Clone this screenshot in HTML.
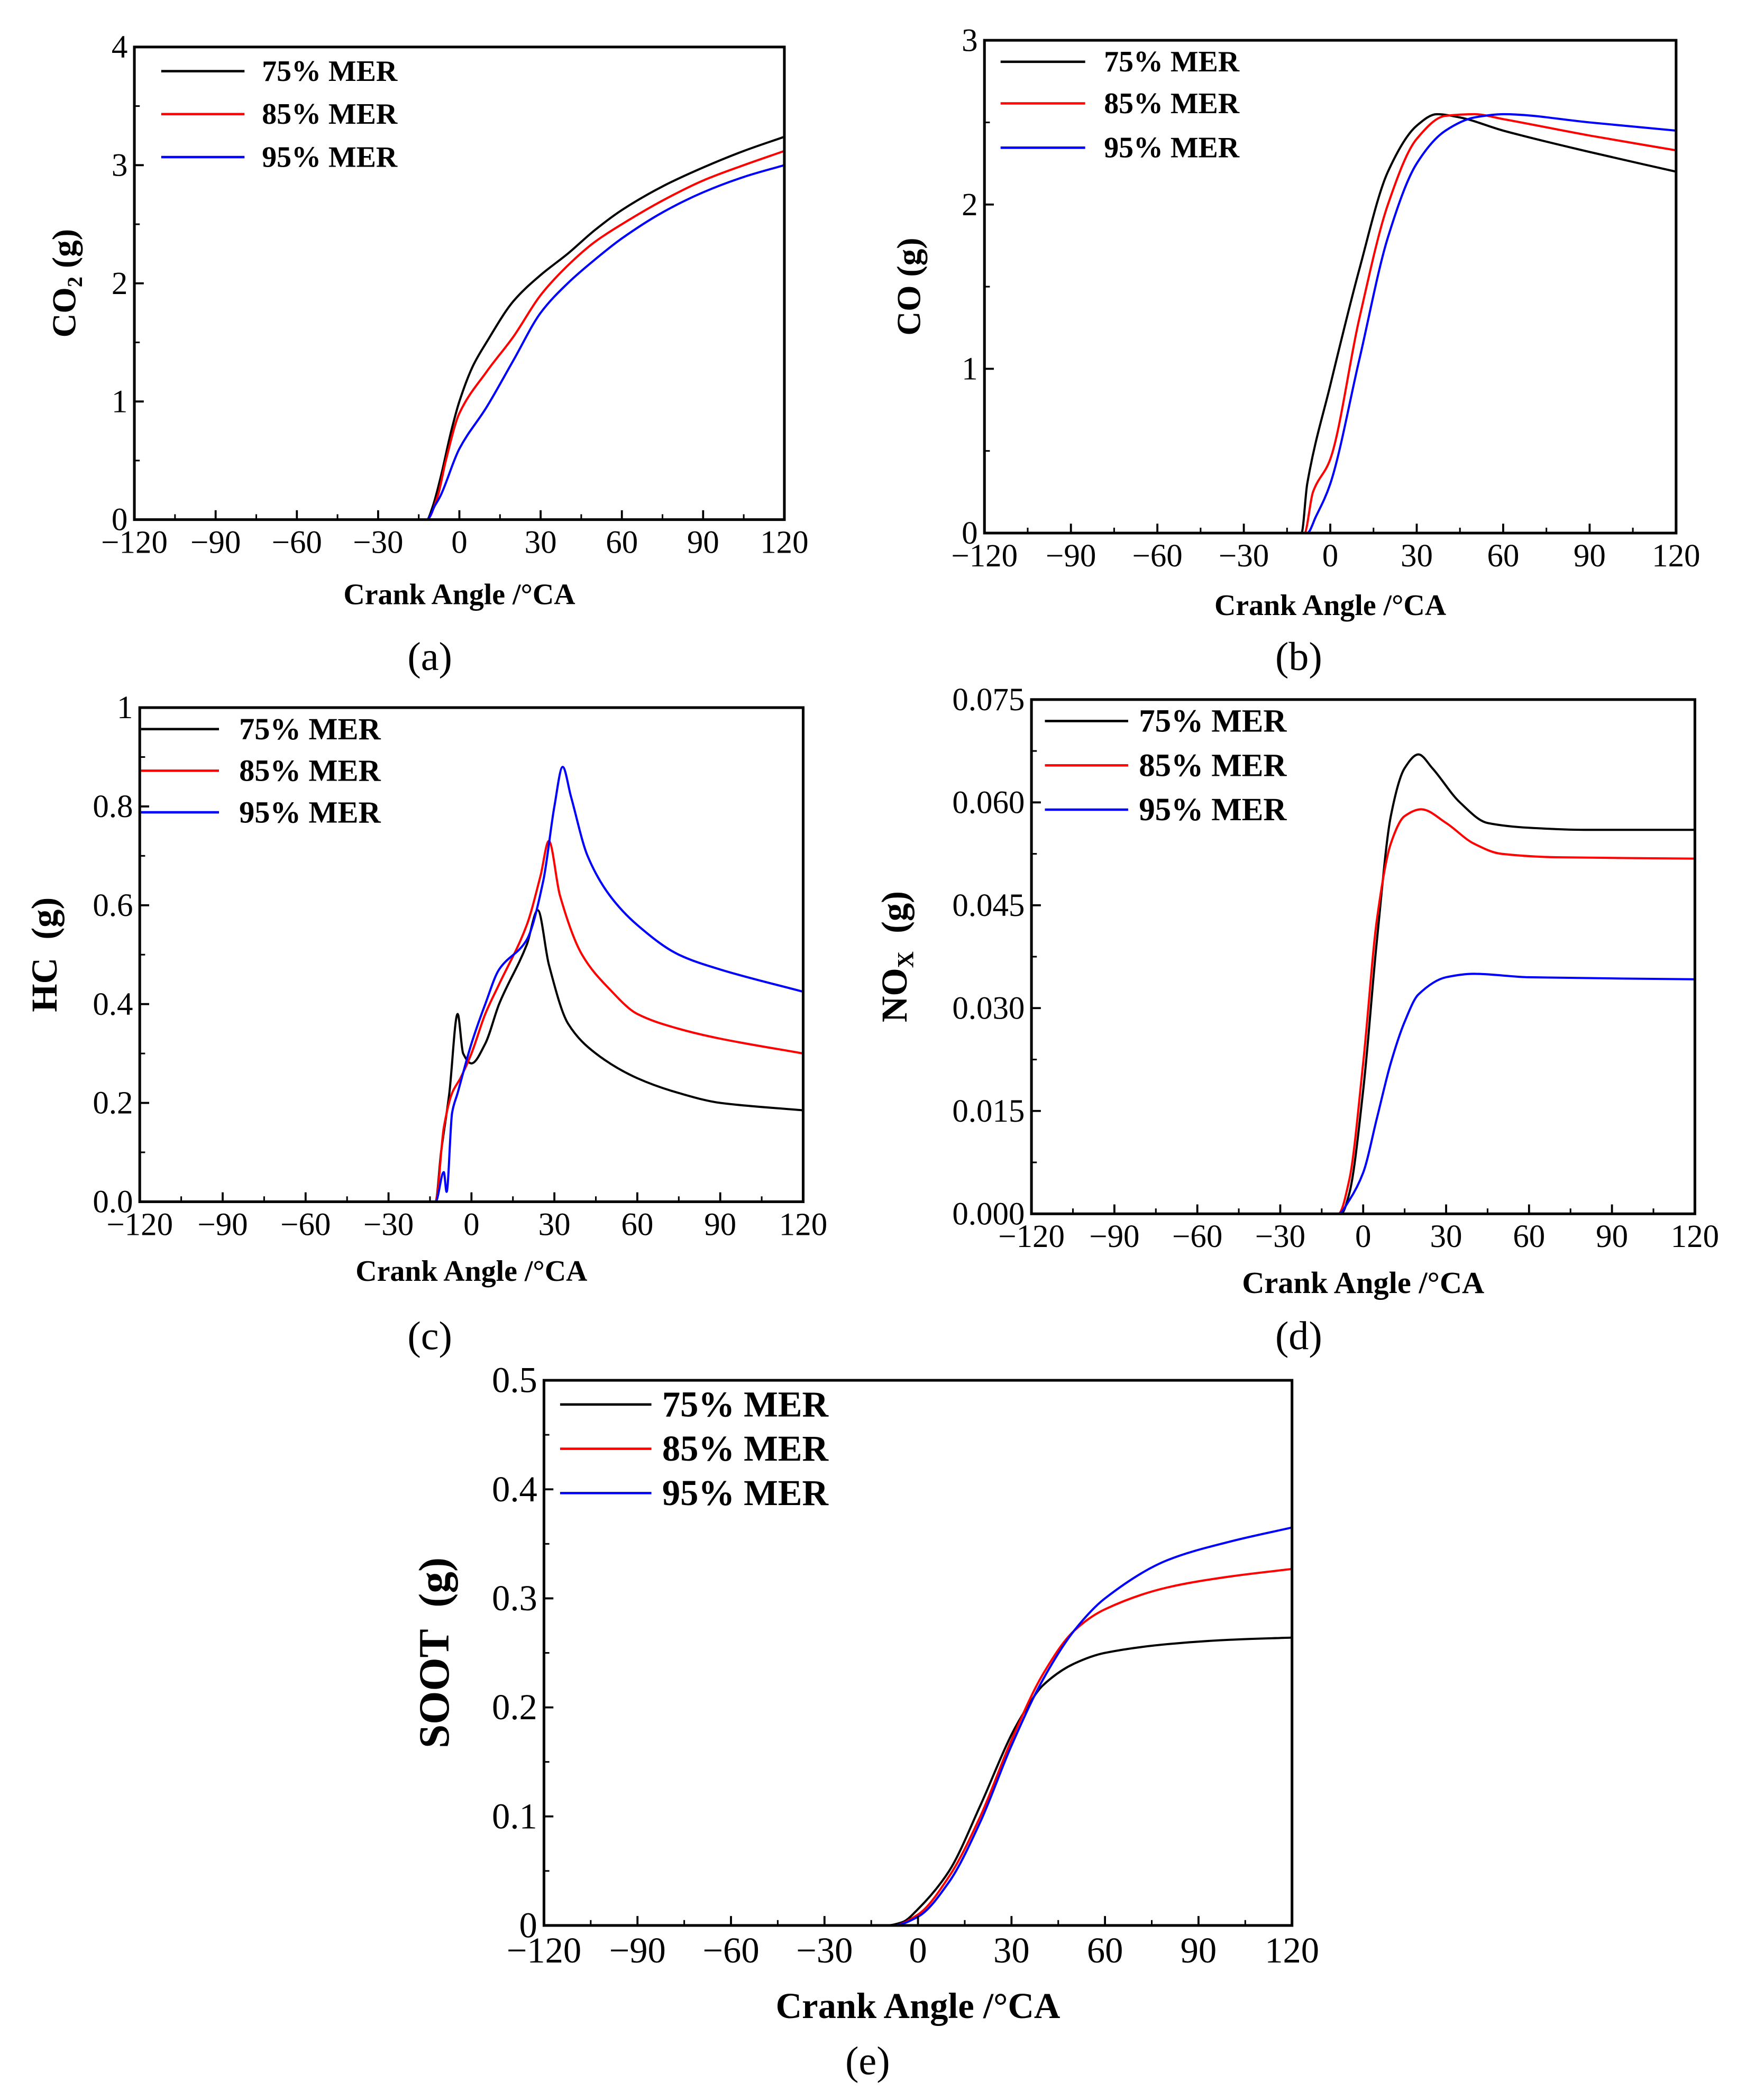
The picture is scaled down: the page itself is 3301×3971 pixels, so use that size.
<!DOCTYPE html>
<html><head><meta charset="utf-8"><style>
html,body{margin:0;padding:0;background:#fff;}
svg{display:block;}
svg text{font-family:"Liberation Serif","Times New Roman",serif;fill:#000;}
</style></head>
<body>
<svg id="fig" width="3301" height="3971" viewBox="0 0 1300 1564" font-family="Liberation Serif, serif" xmlns="http://www.w3.org/2000/svg"></svg>
<script>
// ---- data (crank angle, value) ----
const xTicks = [-120,-90,-60,-30,0,30,60,90,120];
const xTickLabels = ["\u2212120","\u221290","\u221260","\u221230","0","30","60","90","120"];
const seriesNames = ["75% MER","85% MER","95% MER"];
const seriesColors = ["#000000","#ff0000","#0000ff"];

const co2X75 = [-120,-12,-10,-7,-3,0,5,10,20,30,40,50,60,75,90,105,120];
const co2Y75 = [0,0,0.1,0.35,0.75,1.0,1.3,1.5,1.85,2.07,2.25,2.45,2.62,2.82,2.98,3.12,3.24];
const co2X85 = [-120,-12,-8,-5,0,10,20,30,40,50,60,75,90,105,120];
const co2Y85 = [0,0,0.2,0.5,0.9,1.25,1.55,1.9,2.15,2.35,2.5,2.7,2.87,3.0,3.12];
const co2X95 = [-120,-12,-9,-7,0,10,20,30,40,50,60,75,90,105,120];
const co2Y95 = [0,0,0.12,0.2,0.6,0.95,1.35,1.75,2.0,2.2,2.38,2.6,2.77,2.9,3.0];

const coX75 = [-120,-10,-8,0,10,20,30,37,45,60,90,120];
const coY75 = [0,0,0.3,0.9,1.6,2.2,2.48,2.55,2.53,2.45,2.32,2.2];
const coX85 = [-120,-9,-6,0,10,20,30,40,50,60,90,120];
const coY85 = [0,0,0.25,0.45,1.3,2.0,2.4,2.54,2.55,2.52,2.42,2.33];
const coX95 = [-120,-8,-5,0,10,20,30,40,50,60,90,120];
const coY95 = [0,0,0.1,0.3,1.05,1.8,2.25,2.45,2.53,2.55,2.5,2.45];

const hcX75 = [-120,-13,-11,-8,-5,-3,0,5,10,20,24,28,35,45,60,75,90,120];
const hcY75 = [0,0,0.1,0.22,0.38,0.3,0.28,0.32,0.4,0.52,0.59,0.48,0.36,0.3,0.25,0.22,0.2,0.185];
const hcX85 = [-120,-13,-10,-7,-4,0,5,10,20,25,28,32,40,50,60,75,90,120];
const hcY85 = [0,0,0.15,0.22,0.25,0.3,0.38,0.44,0.56,0.66,0.73,0.62,0.5,0.43,0.38,0.35,0.33,0.3];
const hcX95 = [-120,-13,-10,-9,-7,-5,0,5,10,20,26,30,33,36,42,50,60,75,90,120];
const hcY95 = [0,0,0.06,0.02,0.18,0.22,0.32,0.4,0.47,0.53,0.65,0.8,0.88,0.82,0.7,0.62,0.56,0.5,0.47,0.425];

const noxX75 = [-120,-8,-5,0,5,10,15,20,25,35,45,60,80,120];
const noxY75 = [0,0,0.003,0.018,0.04,0.058,0.065,0.067,0.065,0.06,0.057,0.0563,0.056,0.056];
const noxX85 = [-120,-9,-5,0,5,10,15,21,30,40,50,70,120];
const noxY85 = [0,0,0.005,0.022,0.043,0.054,0.058,0.059,0.057,0.054,0.0525,0.052,0.0518];
const noxX95 = [-120,-9,-5,0,5,10,15,20,30,40,60,120];
const noxY95 = [0,0,0.002,0.006,0.014,0.022,0.028,0.032,0.0345,0.035,0.0345,0.0342];

const sootX75 = [-120,-10,-5,0,10,20,30,35,40,50,60,80,100,120];
const sootY75 = [0,0,0.003,0.015,0.05,0.11,0.175,0.2,0.22,0.24,0.25,0.258,0.262,0.264];
const sootX85 = [-120,-8,0,10,20,30,40,50,60,80,100,120];
const sootY85 = [0,0,0.01,0.045,0.1,0.17,0.23,0.27,0.29,0.31,0.32,0.327];
const sootX95 = [-120,-8,0,10,20,30,40,50,60,80,100,120];
const sootY95 = [0,0,0.008,0.04,0.095,0.165,0.225,0.27,0.3,0.335,0.352,0.365];

const co2YTicks=[0,1,2,3,4], co2YLabels=["0","1","2","3","4"];
const coYTicks=[0,1,2,3], coYLabels=["0","1","2","3"];
const hcYTicks=[0,0.2,0.4,0.6,0.8,1], hcYLabels=["0.0","0.2","0.4","0.6","0.8","1"];
const noxYTicks=[0,0.015,0.03,0.045,0.06,0.075], noxYLabels=["0.000","0.015","0.030","0.045","0.060","0.075"];
const sootYTicks=[0,0.1,0.2,0.3,0.4,0.5], sootYLabels=["0","0.1","0.2","0.3","0.4","0.5"];

const NS="http://www.w3.org/2000/svg";
const svg=document.getElementById('fig');
function mk(tag,attrs,parent){const e=document.createElementNS(NS,tag);for(const k in attrs)e.setAttribute(k,attrs[k]);(parent||svg).appendChild(e);return e;}

// monotone cubic (Fritsch-Butland) path in pixel space
function smoothPath(P){
  const n=P.length, sec=[], m=[];
  for(let i=0;i<n-1;i++) sec.push((P[i+1][1]-P[i][1])/(P[i+1][0]-P[i][0]));
  for(let i=0;i<n;i++){
    if(i===0) m.push(sec[0]);
    else if(i===n-1) m.push(sec[n-2]);
    else { const a=sec[i-1], b=sec[i]; m.push(a*b<=0?0:2*a*b/(a+b)); }
  }
  let d='M'+P[0][0].toFixed(2)+' '+P[0][1].toFixed(2);
  for(let i=0;i<n-1;i++){
    const dx=(P[i+1][0]-P[i][0])/3;
    d+='C'+(P[i][0]+dx).toFixed(2)+' '+(P[i][1]+m[i]*dx).toFixed(2)+' '+(P[i+1][0]-dx).toFixed(2)+' '+(P[i+1][1]-m[i+1]*dx).toFixed(2)+' '+P[i+1][0].toFixed(2)+' '+P[i+1][1].toFixed(2);
  }
  return d;
}

function panel(p){
  const g=mk('g',{});
  
  
  const sx=v=>p.x0+(v+120)/240*(p.x1-p.x0);
  const sy=v=>p.y1-(v-p.ymin)/(p.ymax-p.ymin)*(p.y1-p.y0);
  for(let s=0;s<3;s++){
    const xs=p.xs[s], ys=p.ys[s];
    const pts=xs.map((x,i)=>[sx(x),sy(ys[i])]);
    const path=mk('path',{d:smoothPath(pts),fill:'none',stroke:seriesColors[s],'stroke-width':1.6,'stroke-linejoin':'round'},g);
    
    
  }
  const fr=mk('rect',{x:p.x0,y:p.y0,width:p.x1-p.x0,height:p.y1-p.y0,fill:'none',stroke:'#000','stroke-width':2},g);
  
  
  const tk=mk('g',{},g);
  
  
  for(let i=0;i<xTicks.length;i++){
    const x=sx(xTicks[i]);
    mk('line',{x1:x,x2:x,y1:p.y1,y2:p.y1-7,stroke:'#000','stroke-width':1.5},tk);
    if(i<xTicks.length-1){const xm=sx(xTicks[i]+15);mk('line',{x1:xm,x2:xm,y1:p.y1,y2:p.y1-4,stroke:'#000','stroke-width':1.2},tk);}
    const t=mk('text',{x:x,y:p.y1+p.fs*0.95+2,'text-anchor':'middle','font-size':p.fs},tk);
    t.textContent=xTickLabels[i];
  }
  const yt=mk('g',{},g);
  
  
  for(let i=0;i<p.yt.length;i++){
    const y=sy(p.yt[i]);
    mk('line',{x1:p.x0,x2:p.x0+7,y1:y,y2:y,stroke:'#000','stroke-width':1.5},yt);
    if(i<p.yt.length-1){const ym=sy((p.yt[i]+p.yt[i+1])/2);mk('line',{x1:p.x0,x2:p.x0+4,y1:ym,y2:ym,stroke:'#000','stroke-width':1.2},yt);}
    const t=mk('text',{x:p.x0-5,y:y+p.fs*0.33,'text-anchor':'end','font-size':p.fs},yt);
    t.textContent=p.yl[i];
  }
  const xl=mk('text',{x:(p.x0+p.x1)/2,y:p.xly,'text-anchor':'middle','font-size':p.xfs,'font-weight':'bold'},g);
  xl.textContent='Crank Angle /°CA';
  
  
  const yl=mk('text',{x:0,y:0,'text-anchor':'middle','font-size':p.yfs,'font-weight':'bold',transform:'translate('+p.ylx+','+((p.y0+p.y1)/2)+') rotate(-90)'},g);
  yl.innerHTML=p.ylab;
  
  
  const lg=mk('g',{},g);
  
  
  for(let s=0;s<3;s++){
    const y=p.ly[s];
    mk('line',{x1:p.lx0,x2:p.lx1,y1:y,y2:y,stroke:seriesColors[s],'stroke-width':1.8},lg);
    const t=mk('text',{x:p.ltx,y:y+p.lfs*0.33,'font-size':p.lfs,'font-weight':'bold'},lg);
    t.textContent=seriesNames[s];
  }
  const cap=mk('text',{x:p.capx,y:p.capy,'text-anchor':'middle','font-size':p.capfs},g);
  cap.textContent=p.cap;
  
  
}

panel({id:'co2',x0:100,x1:584,y0:35,y1:387,ymin:0,ymax:4,yt:co2YTicks,yl:co2YLabels,
  xs:[co2X75,co2X85,co2X95],ys:[co2Y75,co2Y85,co2Y95],fs:24,xfs:22,xly:450,ylx:56,yfs:25,
  ylab:'CO<tspan font-size="16" dy="5">2</tspan><tspan dy="-5"> (g)</tspan>',
  lx0:120,lx1:182,ltx:195,ly:[53,85,117],lfs:22,cap:'(a)',capx:320,capy:499,capfs:30});
panel({id:'co',x0:733,x1:1248,y0:30,y1:397,ymin:0,ymax:3,yt:coYTicks,yl:coYLabels,
  xs:[coX75,coX85,coX95],ys:[coY75,coY85,coY95],fs:24,xfs:22,xly:458,ylx:685,yfs:25,ylab:'CO (g)',
  lx0:745,lx1:808,ltx:822,ly:[46,77,110],lfs:22,cap:'(b)',capx:967,capy:499,capfs:30});
panel({id:'hc',x0:104,x1:598,y0:527,y1:895,ymin:0,ymax:1,yt:hcYTicks,yl:hcYLabels,
  xs:[hcX75,hcX85,hcX95],ys:[hcY75,hcY85,hcY95],fs:24,xfs:22,xly:954,ylx:42,yfs:27,ylab:'HC&#160;&#160;(g)',
  lx0:105,lx1:163,ltx:178,ly:[543,574,605],lfs:23,cap:'(c)',capx:320,capy:1005,capfs:30});
panel({id:'nox',x0:768,x1:1262,y0:521,y1:904,ymin:0,ymax:0.075,yt:noxYTicks,yl:noxYLabels,
  xs:[noxX75,noxX85,noxX95],ys:[noxY75,noxY85,noxY95],fs:24,xfs:23,xly:963,ylx:675,yfs:27,
  ylab:'NO<tspan font-size="17" dy="5">X</tspan><tspan dy="-5">&#160;&#160;(g)</tspan>',
  lx0:778,lx1:840,ltx:848,ly:[537,570,603],lfs:24,cap:'(d)',capx:967,capy:1005,capfs:30});
panel({id:'soot',x0:405,x1:962,y0:1028,y1:1434,ymin:0,ymax:0.5,yt:sootYTicks,yl:sootYLabels,
  xs:[sootX75,sootX85,sootX95],ys:[sootY75,sootY85,sootY95],fs:27,xfs:27,xly:1503,ylx:334,yfs:32,ylab:'SOOT&#160;&#160;(g)',
  lx0:417,lx1:485,ltx:493,ly:[1046,1079,1112],lfs:27,cap:'(e)',capx:646,capy:1545,capfs:30});
</script>
</body></html>
